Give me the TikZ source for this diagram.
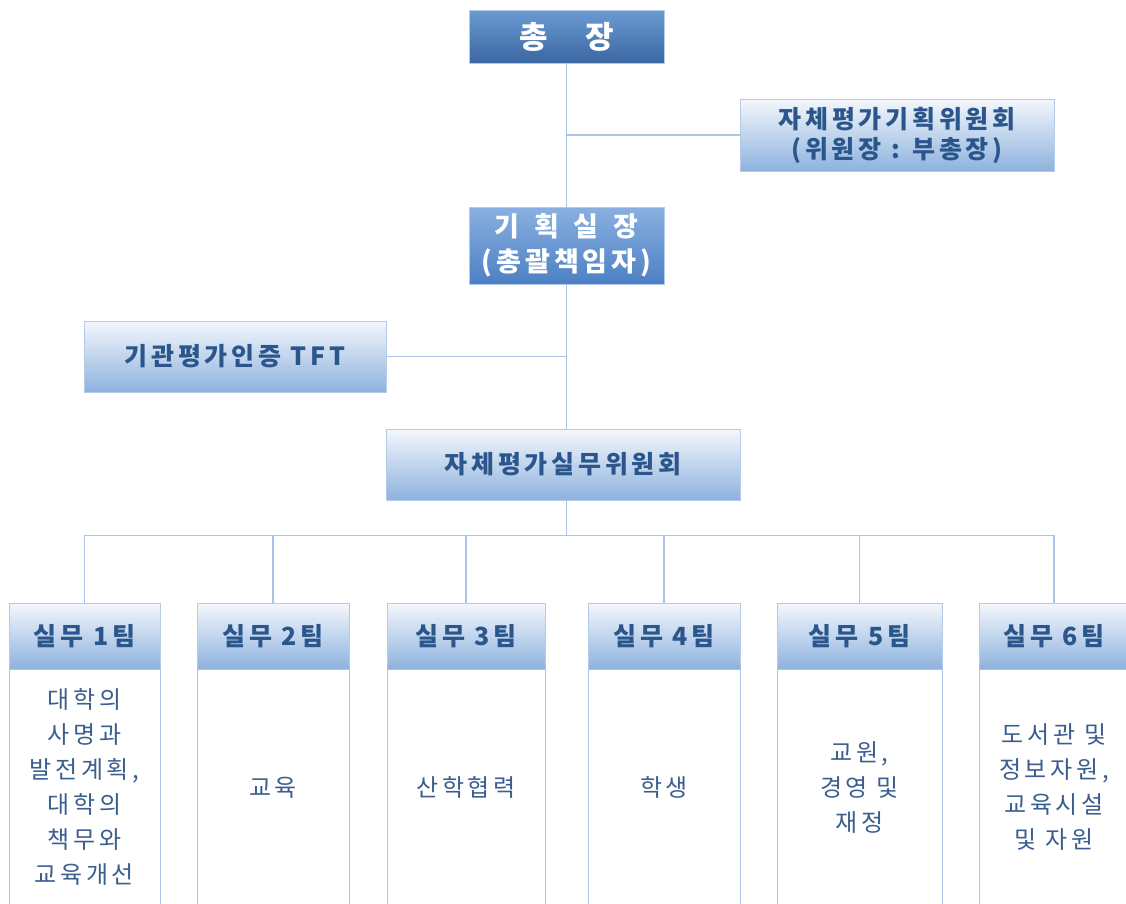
\documentclass[tikz,border=0pt]{standalone}
\usepackage{fontspec}
\setmainfont{Noto Sans CJK KR}[LetterSpace=15]
\usetikzlibrary{positioning}

\definecolor{linkblue}{HTML}{A9C4E6}
\definecolor{edgeblue}{HTML}{B4CBE8}
\definecolor{inkblue}{HTML}{2B568C}
\definecolor{bodyink}{HTML}{3C5E8E}
\definecolor{paleblue}{HTML}{F4F7FC}
\definecolor{softblue}{HTML}{8DB2DE}
\definecolor{midtop}{HTML}{8AB0E0}
\definecolor{midbot}{HTML}{4C80C4}
\definecolor{deeptop}{HTML}{6C9BD2}
\definecolor{deepbot}{HTML}{3A66A2}

\tikzset{
  chiefbox/.style={draw=edgeblue, top color=deeptop, bottom color=deepbot, text=white,
    font=\bfseries\fontsize{31}{34}\selectfont, minimum width=195, minimum height=53, inner sep=0},
  headbox/.style={draw=edgeblue, top color=midtop, bottom color=midbot, text=white, align=center,
    font=\bfseries\fontsize{27}{35}\selectfont, minimum width=195, minimum height=77, inner sep=0},
  palebox/.style={draw=edgeblue, top color=paleblue, bottom color=softblue, text=inkblue, align=center,
    font=\bfseries\fontsize{25}{30}\selectfont, inner sep=0},
  teambox/.style={palebox, minimum height=66},
  workbox/.style={draw=linkblue, fill=white, text=bodyink, align=center,
    font=\fontsize{24}{35}\selectfont, minimum height=236, inner sep=0},
  link/.style={draw=linkblue, line width=1.3pt}
}

\begin{document}
\begin{tikzpicture}[x=1pt, y=-1pt]
  \useasboundingbox (0,0) rectangle (1126,903);
  \clip (0,0) rectangle (1126,903);

  % Top of the chart
  \node[chiefbox] (chief) at (566.5,36.5) {총\hspace{1.2em}장};
  \node[palebox, minimum width=314, minimum height=72] (selfplan) at (897,135)
    {자체평가기획위원회\\(위원장 : 부총장)};
  \node[headbox] (plan) at (566.5,245.5) {기\hspace{0.55em}획\hspace{0.55em}실\hspace{0.55em}장\\(총괄책임자)};
  \node[palebox, minimum width=302, minimum height=71] (tft) at (235,356.5) {기관평가인증 TFT};
  \node[palebox, minimum width=354, minimum height=71] (work) at (563,464.5) {자체평가실무위원회};

  % Spine
  \draw[link] (chief.south) -- (plan.north);
  \draw[link] (plan.south) -- (plan.south |- work.north);
  \draw[link] (selfplan.west) -- (selfplan.west -| chief.south);
  \draw[link] (tft.east) -- (tft.east -| plan.south);

  % Teams
  \foreach \i/\cx/\w/\txt in {
      1/84.5/151/{대학의\\사명과\\발전계획,\\대학의\\책무와\\교육개선},
      2/273/152/{교육},
      3/466/158/{산학협력},
      4/664/152/{학생},
      5/859.5/165/{교원,\\경영 및\\재정},
      6/1054/150/{도서관 및\\정보자원,\\교육시설\\및 자원}} {
    \node[teambox, minimum width=\w] (team\i) at (\cx,636) {실무 \i{}팀};
    \node[workbox, minimum width=\w, anchor=north] (duty\i) at (team\i.south) {\txt};
  }

  % Bus to the teams
  \coordinate (bus) at ([yshift=-35]work.south -| plan.south);
  \draw[link] (plan.south |- work.south) -- (bus);
  \draw[link] (team1.north) -- (team1.north |- bus) -- (team6.north |- bus) -- (team6.north);
  \foreach \i in {2,...,5}
    \draw[link] (team\i.north) -- (team\i.north |- bus);
\end{tikzpicture}
\end{document}
